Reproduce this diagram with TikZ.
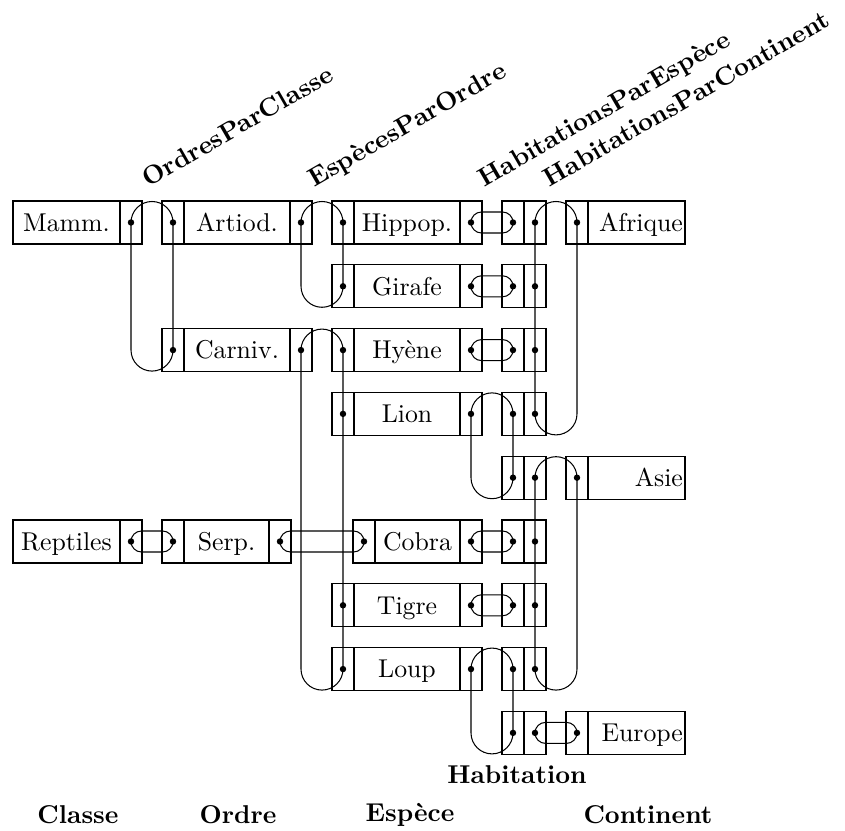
\documentclass[tikz,border=0pt]{standalone}
\newdimen\pxunit
\pxunit=0.388pt
\tikzset{
  ptr/.style={draw, minimum width=22*\pxunit, minimum height=43*\pxunit, inner sep=0pt, outer sep=0pt},
  txt/.style={draw, minimum width=#1*\pxunit, minimum height=43*\pxunit, inner sep=0pt, outer sep=0pt, text height=6.83pt, text depth=0pt},
  rtxt/.style={draw, minimum height=43*\pxunit, inner ysep=0pt, inner xsep=0.8pt, outer sep=0pt, text width=97*\pxunit-1.6pt, align=right, text height=6.83pt, text depth=0pt},
  toplab/.style={font=\bfseries, rotate=30, anchor=base west, inner sep=0pt},
  botlab/.style={font=\bfseries, inner sep=0pt},
  dotmark/.style={fill=black},
  link/.style={draw=black}
}
\newcommand\Dot[1]{\fill[dotmark] (#1.center) circle[radius=1.25pt];}
% #1 top-left pointer, #2 node in the right column, #3 node in the bottom row
\newcommand\vloop[3]{\draw[link] (#1.center) arc[start angle=180,end angle=0,radius=8.148pt] -- (#2.center |- #3.center) arc[start angle=0,end angle=-180,radius=8.148pt] -- cycle;}
\newcommand\pill[2]{\draw[link] ([xshift=4.074pt,yshift=4.074pt]#1.center) -- ([xshift=-4.074pt,yshift=4.074pt]#2.center) arc[start angle=90,end angle=-90,radius=4.074pt] -- ([xshift=4.074pt,yshift=-4.074pt]#1.center) arc[start angle=270,end angle=90,radius=4.074pt] -- cycle;}
\begin{document}
\begin{tikzpicture}[x=\pxunit, y=-\pxunit]
\useasboundingbox (0,0) rectangle (845,831);
% ---- row 1
\node[txt=107] (mammT) at (66.5,222.5) {Mamm.};
\node[ptr] (mammP) at (131,222.5) {};
\node[ptr] (artL) at (173,222.5) {};
\node[txt=106] (artT) at (237,222.5) {Artiod.};
\node[ptr] (artR) at (301,222.5) {};
\node[ptr] (hipL) at (343,222.5) {};
\node[txt=106] (hipT) at (407,222.5) {Hippop.};
\node[ptr] (hipR) at (471,222.5) {};
\node[ptr] (h1L) at (513,222.5) {};
\node[ptr] (h1R) at (535,222.5) {};
\node[ptr] (afrP) at (577,222.5) {};
\node[rtxt] (afrT) at (636.5,222.5) {Afrique};
% ---- row 2
\node[ptr] (girL) at (343,286.3) {};
\node[txt=106] (girT) at (407,286.3) {Girafe};
\node[ptr] (girR) at (471,286.3) {};
\node[ptr] (h2L) at (513,286.3) {};
\node[ptr] (h2R) at (535,286.3) {};
% ---- row 3
\node[ptr] (carL) at (173,350.1) {};
\node[txt=106] (carT) at (237,350.1) {Carniv.};
\node[ptr] (carR) at (301,350.1) {};
\node[ptr] (hyeL) at (343,350.1) {};
\node[txt=106] (hyeT) at (407,350.1) {Hyène};
\node[ptr] (hyeR) at (471,350.1) {};
\node[ptr] (h3L) at (513,350.1) {};
\node[ptr] (h3R) at (535,350.1) {};
% ---- row 4
\node[ptr] (lioL) at (343,413.9) {};
\node[txt=106] (lioT) at (407,413.9) {Lion};
\node[ptr] (lioR) at (471,413.9) {};
\node[ptr] (h4L) at (513,413.9) {};
\node[ptr] (h4R) at (535,413.9) {};
% ---- row 5
\node[ptr] (h5L) at (513,477.7) {};
\node[ptr] (h5R) at (535,477.7) {};
\node[ptr] (asiP) at (577,477.7) {};
\node[rtxt] (asiT) at (636.5,477.7) {Asie};
% ---- row 6
\node[txt=107] (repT) at (66.5,541.5) {Reptiles};
\node[ptr] (repP) at (131,541.5) {};
\node[ptr] (serL) at (173,541.5) {};
\node[txt=85] (serT) at (226.5,541.5) {Serp.};
\node[ptr] (serR) at (280,541.5) {};
\node[ptr] (cobL) at (364,541.5) {};
\node[txt=85] (cobT) at (417.5,541.5) {Cobra};
\node[ptr] (cobR) at (471,541.5) {};
\node[ptr] (h6L) at (513,541.5) {};
\node[ptr] (h6R) at (535,541.5) {};
% ---- row 7
\node[ptr] (tigL) at (343,605.3) {};
\node[txt=106] (tigT) at (407,605.3) {Tigre};
\node[ptr] (tigR) at (471,605.3) {};
\node[ptr] (h7L) at (513,605.3) {};
\node[ptr] (h7R) at (535,605.3) {};
% ---- row 8
\node[ptr] (louL) at (343,669.1) {};
\node[txt=106] (louT) at (407,669.1) {Loup};
\node[ptr] (louR) at (471,669.1) {};
\node[ptr] (h8L) at (513,669.1) {};
\node[ptr] (h8R) at (535,669.1) {};
% ---- row 9
\node[ptr] (h9L) at (513,732.9) {};
\node[ptr] (h9R) at (535,732.9) {};
\node[ptr] (eurP) at (577,732.9) {};
\node[rtxt] (eurT) at (636.5,732.9) {Europe};
% ---- dots
\foreach \n in {mammP,artL,artR,hipL,hipR,h1L,h1R,afrP,girL,girR,h2L,h2R,carL,carR,hyeL,hyeR,h3L,h3R,lioL,lioR,h4L,h4R,h5L,h5R,asiP,repP,serL,serR,cobL,cobR,h6L,h6R,tigL,tigR,h7L,h7R,louL,louR,h8L,h8R,h9L,h9R,eurP}{\Dot{\n}}
% ---- OrdresParClasse
\vloop{mammP}{carL}{carL}
\pill{repP}{serL}
% ---- EspecesParOrdre
\vloop{artR}{girL}{girL}
\vloop{carR}{louL}{louL}
\pill{serR}{cobL}
% ---- HabitationsParEspece
\pill{hipR}{h1L}
\pill{girR}{h2L}
\pill{hyeR}{h3L}
\vloop{lioR}{h5L}{h5L}
\pill{cobR}{h6L}
\pill{tigR}{h7L}
\vloop{louR}{h9L}{h9L}
% ---- HabitationsParContinent
\vloop{h1R}{afrP}{h4R}
\vloop{h5R}{asiP}{h8R}
\pill{h9R}{eurP}
% ---- labels
\node[toplab] (lOPC) at (148,188) {OrdresParClasse};
\node[toplab] (lEPO) at (314,188) {EspècesParOrdre};
\node[toplab] (lHPE) at (484,188) {HabitationsParEspèce};
\node[toplab] (lHPC) at (549,188) {HabitationsParContinent};
\node[botlab] (bCla) at (78,815) {Classe};
\node[botlab] (bOrd) at (238,815) {Ordre};
\node[botlab] (bEsp) at (410,815) {Espèce};
\node[botlab] (bHab) at (517,775) {Habitation};
\node[botlab] (bCon) at (648,815) {Continent};
\end{tikzpicture}
\end{document}
